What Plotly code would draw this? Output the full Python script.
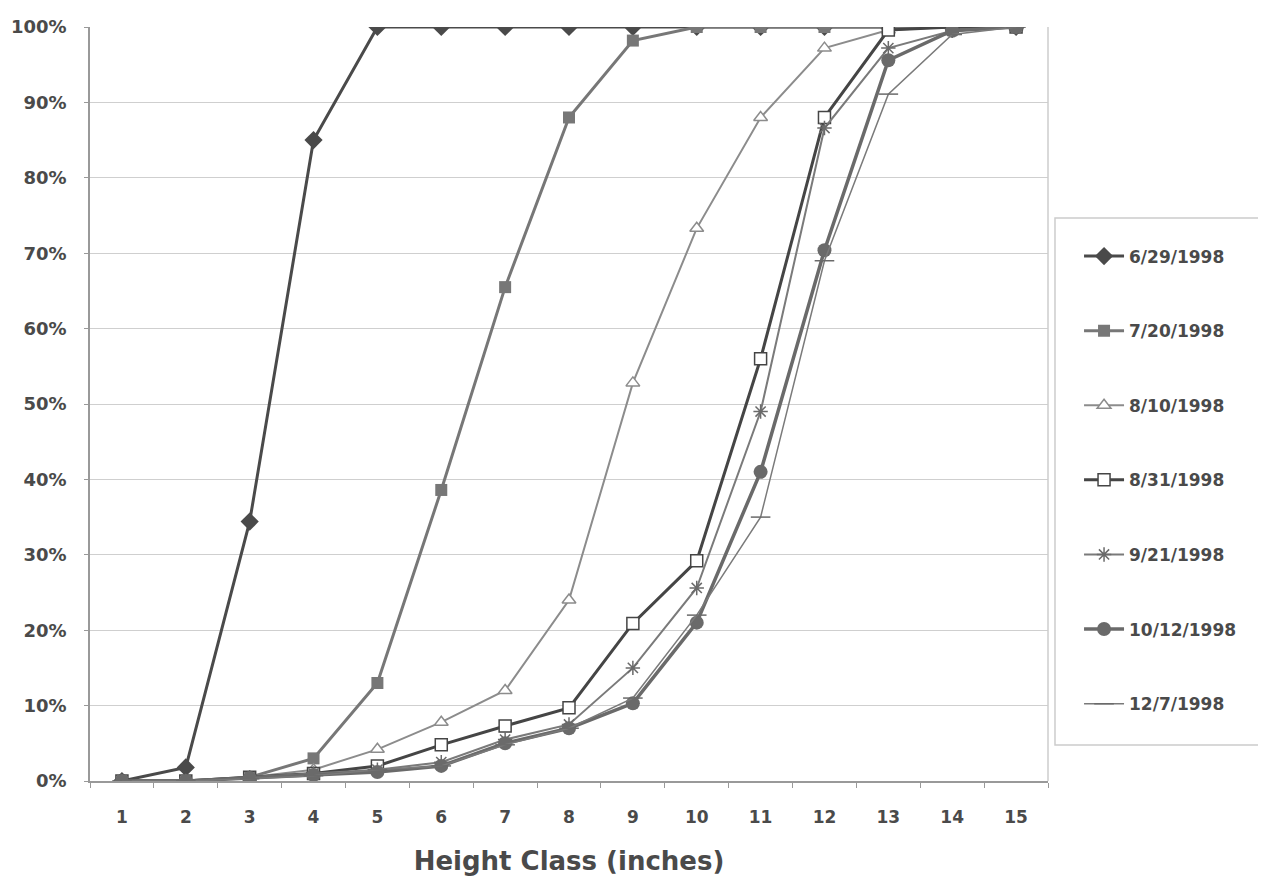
import plotly.graph_objects as go

height_class = [str(i) for i in range(1, 16)]
tick_labels_y = ["0%", "10%", "20%", "30%", "40%", "50%", "60%", "70%", "80%", "90%", "100%"]

s_0629 = [0, 1.8, 34.4, 85.0, 100, 100, 100, 100, 100, 100, 100, 100, 100, 100, 100]
s_0720 = [0, 0, 0.5, 3.0, 13.0, 38.6, 65.5, 88.0, 98.2, 100, 100, 100, 100, 100, 100]
s_0810 = [0, 0, 0.5, 1.5, 4.2, 7.8, 12.0, 24.0, 52.8, 73.3, 88.0, 97.2, 99.6, 100, 100]
s_0831 = [0, 0, 0.5, 1.0, 2.0, 4.8, 7.3, 9.7, 20.9, 29.2, 56.0, 88.0, 99.6, 100, 100]
s_0921 = [0, 0, 0.5, 1.0, 1.5, 2.5, 5.5, 7.5, 15.0, 25.6, 49.0, 86.6, 97.2, 99.5, 100]
s_1012 = [0, 0, 0.4, 0.8, 1.2, 2.0, 5.0, 7.0, 10.3, 21.0, 41.0, 70.4, 95.6, 99.5, 100]
s_1207 = [0, 0, 0.3, 0.7, 1.5, 2.0, 4.8, 7.0, 11.0, 22.0, 35.0, 69.0, 91.1, 99.0, 100]

series = [
    ("6/29/1998", s_0629, dict(color="#4a4a4a", width=3), dict(symbol="diamond", size=14, color="#4a4a4a")),
    ("7/20/1998", s_0720, dict(color="#777777", width=3), dict(symbol="square", size=12, color="#777777")),
    ("8/10/1998", s_0810, dict(color="#8c8c8c", width=2), dict(symbol="triangle-up", size=12, color="white", line=dict(color="#8c8c8c", width=1.5))),
    ("8/31/1998", s_0831, dict(color="#454545", width=3), dict(symbol="square", size=12, color="white", line=dict(color="#454545", width=1.5))),
    ("9/21/1998", s_0921, dict(color="#7a7a7a", width=2), dict(symbol="asterisk-open", size=12, color="#6a6a6a", line=dict(color="#6a6a6a", width=1.5))),
    ("10/12/1998", s_1012, dict(color="#6a6a6a", width=3.5), dict(symbol="circle", size=14, color="#6a6a6a")),
    ("12/7/1998", s_1207, dict(color="#7a7a7a", width=1.5), dict(symbol="line-ew-open", size=14, color="#6a6a6a", line=dict(color="#6a6a6a", width=1.5))),
]

FONT = "DejaVu Sans, Arial, sans-serif"

fig = go.Figure()
for i, (name, vals, line, marker) in enumerate(series):
    fig.add_trace(go.Scatter(
        x=height_class, y=vals, name=f"<b>{name}</b>", mode="lines+markers",
        line=line, marker=marker, legendgroup=f"g{i}",
    ))

fig.update_layout(
    width=1258, height=874,
    margin=dict(l=82, r=218, t=19, b=101),
    paper_bgcolor="white", plot_bgcolor="white",
    font=dict(family=FONT, color="#4a4a4a"),
    showlegend=True,
    legend=dict(
        x=1.0324, xanchor="left", y=0.7195, yanchor="top",
        borderwidth=0, bgcolor="rgba(0,0,0,0)",
        font=dict(family=FONT, size=17, color="#4a4a4a"),
        tracegroupgap=49.5,
        itemwidth=40,
    ),
)
fig.update_xaxes(
    type="category", range=[-0.5, 14.5], automargin=False,
    tickson="boundaries", ticks="outside", ticklen=5, tickcolor="#999999",
    showline=True, linecolor="#999999", linewidth=1.5,
    showgrid=False,
    tickvals=height_class, ticktext=[f"<b>{c}</b>" for c in height_class],
    tickfont=dict(family=FONT, size=17, color="#4a4a4a"),
    ticklabelstandoff=20,
    title=dict(text="<b>Height Class (inches)</b>", font=dict(family=FONT, size=26, color="#4a4a4a"), standoff=26),
)
fig.update_yaxes(
    range=[0, 100], automargin=False,
    tickvals=list(range(0, 101, 10)), ticktext=[f"<b>{t}</b>" for t in tick_labels_y],
    showgrid=True, gridcolor="#cfcfcf", gridwidth=1,
    showline=True, linecolor="#999999", linewidth=1.5,
    ticks="outside", ticklen=4, tickcolor="#999999",
    tickfont=dict(family=FONT, size=18, color="#4a4a4a"),
    ticklabelstandoff=14,
    zeroline=False,
)
fig.add_shape(type="line", xref="paper", yref="paper", x0=1, x1=1, y0=0, y1=1,
              line=dict(color="#cccccc", width=1.5))
fig.add_shape(type="rect", xref="paper", yref="paper", x0=1.0073, x1=1.26, y0=0.0477, y1=0.7467,
              line=dict(color="#cccccc", width=1.5), fillcolor="rgba(0,0,0,0)")

fig.write_html("out.html")
